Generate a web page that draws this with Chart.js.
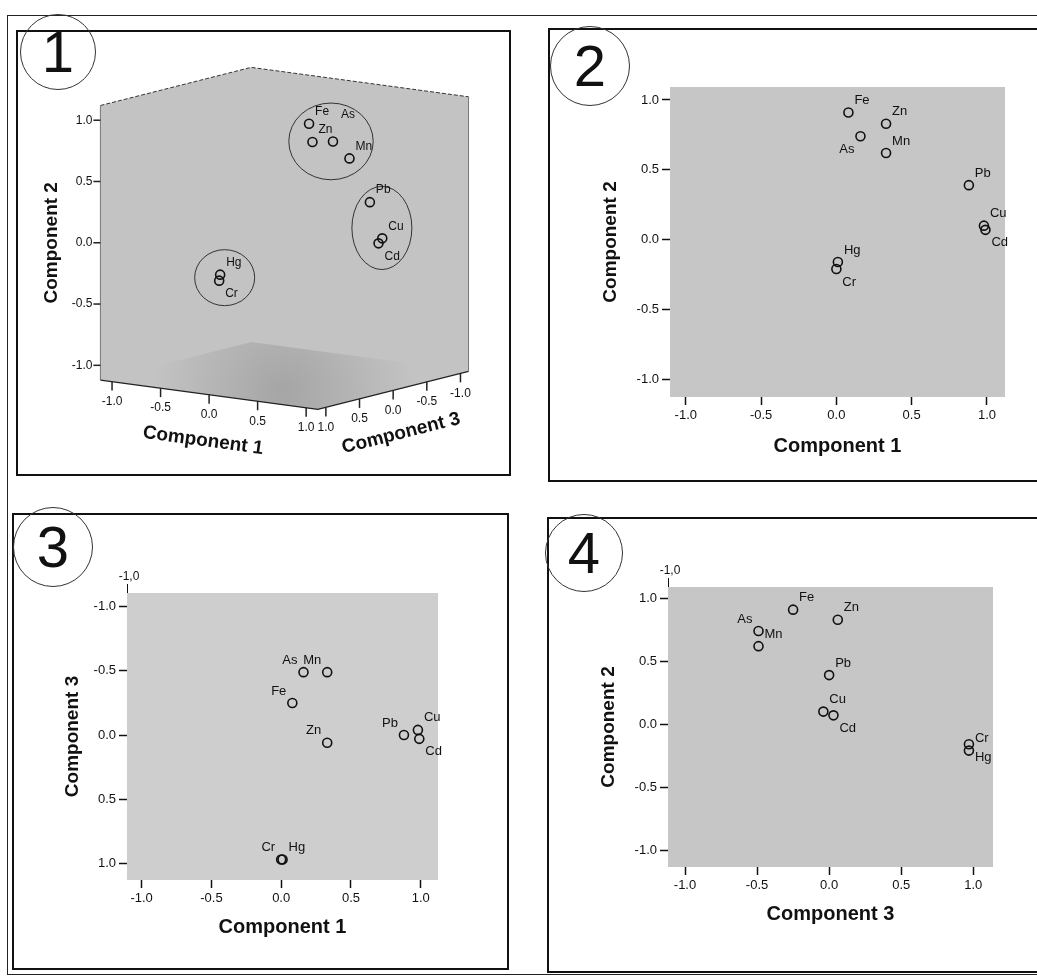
<!DOCTYPE html>
<html lang="en">
<head>
    <meta charset="UTF-8">
    <title>Component plots in rotated space</title>
    <!-- Chart.js CDN -->
    <script src="https://cdn.jsdelivr.net/npm/chart.js"></script>
    <style>
        body { margin: 0; background: #fff; width: 1037px; height: 977px; position: relative; overflow: hidden;
               font-family: "Liberation Sans", Arial, sans-serif; }
        .frame { position: absolute; left: 7px; top: 15px; width: 1060px; height: 958px;
                 border-left: 1.5px solid #222; border-top: 1.5px solid #222; border-bottom: 1.5px solid #222; }
        .panel { position: absolute; border: 2px solid #111; box-sizing: border-box; background: #fff; }
        canvas { position: absolute; }
        .badge { position: absolute; border: 1px solid #333; border-radius: 50%; background: transparent;
                 text-align: center; color: #111; font-size: 58px; box-sizing: border-box; }
    </style>
</head>
<body>

    <div class="frame"></div>

    <!-- Panel boxes -->
    <div class="panel" style="left:16px; top:30px; width:495px; height:446px;"></div>
    <div class="panel" style="left:548px; top:28px; width:520px; height:454px;"></div>
    <div class="panel" style="left:12px; top:513px; width:497px; height:457px;"></div>
    <div class="panel" style="left:547px; top:517px; width:520px; height:456px;"></div>

    <!-- Charts -->
    <canvas id="plot1" width="495" height="446" style="left:16px; top:30px;"></canvas>
    <canvas id="plot2" width="489" height="454" style="left:548px; top:28px;"></canvas>
    <canvas id="plot3" width="501" height="457" style="left:8px; top:513px;"></canvas>
    <canvas id="plot4" width="490" height="456" style="left:547px; top:517px;"></canvas>

    <!-- Panel numbers -->
    <div class="badge" style="left:20px; top:14px; width:76px; height:76px; line-height:74px;">1</div>
    <div class="badge" style="left:550px; top:26px; width:80px; height:80px; line-height:78px;">2</div>
    <div class="badge" style="left:13px; top:507px; width:80px; height:80px; line-height:78px;">3</div>
    <div class="badge" style="left:545px; top:514px; width:78px; height:78px; line-height:76px;">4</div>

    <script>
        // Component loadings
        const elements = ['As', 'Cd', 'Cr', 'Cu', 'Fe', 'Hg', 'Mn', 'Pb', 'Zn'];
        const comp1 = [0.16, 0.99, 0.00, 0.98, 0.08, 0.01, 0.33, 0.88, 0.33];
        const comp2 = [0.74, 0.07, -0.21, 0.10, 0.91, -0.16, 0.62, 0.39, 0.83];
        const comp3 = [-0.49, 0.03, 0.97, -0.04, -0.25, 0.97, -0.49, 0.00, 0.06];
        const tickValues = [-1.0, -0.5, 0.0, 0.5, 1.0];
        const clusters = [['Fe', 'As', 'Zn', 'Mn'], ['Pb', 'Cu', 'Cd'], ['Hg', 'Cr']];

        const FONT = '"Liberation Sans", Arial, sans-serif';
        Chart.defaults.font.family = FONT;
        Chart.defaults.color = '#111';

        // label position codes: dx, dy, align
        const labelOffsets = {
            tr: [6, -12, 'left'],
            br: [6, 13, 'left'],
            tl: [-6, -12, 'right'],
            bl: [-6, 13, 'right'],
            tt: [8, -27, 'left']
        };

        // 3D view for panel 1 (page pixels)
        const view3d = { origin: [285, 238], unit: 126, e1: [99.5, 13.5], e3: [-69, 17.5], extent: 1.12,
                         canvas: [16, 30, 495, 446] };

        function fmt(v) {
            return v.toFixed(1);
        }

        function project(c1, c2, c3) {
            return {
                x: (view3d.e1[0] * c1 + view3d.e3[0] * c3) / view3d.unit,
                y: c2 - (view3d.e1[1] * c1 + view3d.e3[1] * c3) / view3d.unit
            };
        }

        // Gray plot background
        const plotFill = {
            id: 'plotFill',
            beforeDraw(chart, args, opts) {
                if (!opts.color) return;
                const { ctx, chartArea: a } = chart;
                ctx.save();
                ctx.fillStyle = opts.color;
                ctx.fillRect(a.left, a.top, a.right - a.left, a.bottom - a.top);
                ctx.restore();
            }
        };

        // Element names next to the points
        const pointLabels = {
            id: 'pointLabels',
            afterDatasetsDraw(chart, args, opts) {
                const { ctx } = chart;
                const meta = chart.getDatasetMeta(0);
                ctx.save();
                ctx.font = (opts.size || 13) + 'px ' + FONT;
                ctx.fillStyle = '#111';
                ctx.textBaseline = 'middle';
                meta.data.forEach((pt, i) => {
                    const name = elements[i];
                    const off = labelOffsets[(opts.placement || {})[name] || 'tr'];
                    ctx.textAlign = off[2];
                    ctx.fillText(name, pt.x + off[0], pt.y + off[1]);
                });
                ctx.restore();
            }
        };

        // the stray "-1,0" above the y axis in panels 3 and 4
        const cornerNote = {
            id: 'cornerNote',
            afterDraw(chart, args, opts) {
                if (!opts.text) return;
                const { ctx, chartArea: a } = chart;
                ctx.save();
                ctx.strokeStyle = '#111';
                ctx.lineWidth = 1;
                ctx.beginPath();
                ctx.moveTo(a.left + 0.5, a.top - 9);
                ctx.lineTo(a.left + 0.5, a.top);
                ctx.stroke();
                ctx.font = '12px ' + FONT;
                ctx.fillStyle = '#111';
                ctx.textAlign = 'center';
                ctx.textBaseline = 'middle';
                ctx.fillText(opts.text, a.left + 2, a.top - 16);
                ctx.restore();
            }
        };

        function axis(title, range, dir, size) {
            return {
                type: 'linear',
                min: range[0],
                max: range[1],
                afterBuildTicks: s => { s.ticks = tickValues.map(v => ({ value: v })); },
                afterFit: s => { if (dir === 'x') s.height = size; else s.width = size; },
                grid: { drawOnChartArea: false, drawTicks: true, tickLength: 8, tickWidth: 1.5, tickColor: '#111' },
                border: { display: false },
                ticks: { callback: v => fmt(v), font: { size: 13 }, color: '#111', padding: 3,
                         maxRotation: 0, autoSkip: false },
                title: { display: true, text: title, font: { size: dir === 'x' ? 20 : 19, weight: 'bold' }, color: '#111' }
            };
        }

        function pointDataset(data) {
            return {
                data: data,
                pointStyle: 'circle',
                pointRadius: 4.5,
                pointBorderWidth: 1.6,
                pointBorderColor: '#111',
                pointBackgroundColor: 'rgba(0,0,0,0)'
            };
        }

        function makePanel(id, xs, ys, cfg) {
            const data = elements.map((e, i) => ({ x: xs[i], y: ys[i] }));
            const yAxis = axis(cfg.yTitle, cfg.yRange, 'y', cfg.yWidth);
            yAxis.reverse = !!cfg.yReverse;
            return new Chart(document.getElementById(id), {
                type: 'scatter',
                data: { datasets: [pointDataset(data)] },
                options: {
                    responsive: false,
                    animation: false,
                    events: [],
                    layout: { padding: cfg.padding },
                    plugins: {
                        legend: { display: false },
                        tooltip: { enabled: false },
                        plotFill: { color: cfg.fill },
                        pointLabels: { placement: cfg.placement },
                        cornerNote: { text: cfg.note }
                    },
                    scales: {
                        x: axis(cfg.xTitle, cfg.xRange, 'x', cfg.xHeight),
                        y: yAxis
                    }
                },
                plugins: [plotFill, pointLabels, cornerNote]
            });
        }

        // Panel 1: 3D box drawn through the chart's own scales
        const box3d = {
            id: 'box3d',
            beforeDatasetsDraw(chart) {
                const { ctx } = chart;
                const sx = chart.scales.x, sy = chart.scales.y;
                const m = view3d.extent;
                const px = (c1, c2, c3) => {
                    const p = project(c1, c2, c3);
                    return [sx.getPixelForValue(p.x), sy.getPixelForValue(p.y)];
                };
                const path = pts => {
                    ctx.beginPath();
                    pts.forEach((p, i) => i ? ctx.lineTo(p[0], p[1]) : ctx.moveTo(p[0], p[1]));
                };
                ctx.save();
                // walls and floor, one shade like the scan
                path([px(-m, m, m), px(-m, m, -m), px(m, m, -m), px(m, -m, -m), px(m, -m, m), px(-m, -m, m)]);
                ctx.closePath();
                ctx.fillStyle = '#c3c3c3';
                ctx.fill();
                const fc = px(0.2, -m, 0.3);
                const grad = ctx.createRadialGradient(fc[0], fc[1] + 8, 4, fc[0], fc[1] + 8, 130);
                grad.addColorStop(0, 'rgba(130,130,130,0.45)');
                grad.addColorStop(1, 'rgba(130,130,130,0)');
                path([px(-m, -m, -m), px(m, -m, -m), px(m, -m, m), px(-m, -m, m)]);
                ctx.closePath();
                ctx.fillStyle = grad;
                ctx.fill();

                // outline
                ctx.strokeStyle = '#333';
                ctx.lineWidth = 1;
                ctx.setLineDash([4, 2]);
                path([px(-m, m, m), px(-m, m, -m), px(m, m, -m)]);
                ctx.stroke();
                ctx.setLineDash([]);
                ctx.strokeStyle = '#777';
                path([px(m, m, -m), px(m, -m, -m)]);
                ctx.stroke();
                path([px(-m, m, m), px(-m, -m, m)]);
                ctx.stroke();
                ctx.strokeStyle = '#222';
                ctx.lineWidth = 1.3;
                path([px(-m, -m, m), px(m, -m, m), px(m, -m, -m)]);
                ctx.stroke();

                // ticks
                ctx.fillStyle = '#111';
                ctx.lineWidth = 1.5;
                ctx.font = '12px ' + FONT;
                ctx.textBaseline = 'middle';
                tickValues.forEach(t => {
                    // component 2, left edge
                    let a = px(-m, t, m);
                    ctx.beginPath(); ctx.moveTo(a[0] - 7, a[1]); ctx.lineTo(a[0], a[1]); ctx.stroke();
                    ctx.textAlign = 'right';
                    ctx.fillText(fmt(t), a[0] - 8, a[1]);
                    // component 1, front-left floor edge
                    a = px(t, -m, m);
                    ctx.beginPath(); ctx.moveTo(a[0], a[1]); ctx.lineTo(a[0], a[1] + 9); ctx.stroke();
                    ctx.textAlign = 'center';
                    ctx.fillText(fmt(t), a[0], a[1] + 20);
                    // component 3, front-right floor edge
                    a = px(m, -m, t);
                    ctx.beginPath(); ctx.moveTo(a[0], a[1]); ctx.lineTo(a[0], a[1] + 9); ctx.stroke();
                    ctx.fillText(fmt(t), a[0], a[1] + 20);
                });

                // axis titles
                ctx.textAlign = 'center';
                const titleAt = (text, pt, ang, size) => {
                    ctx.save();
                    ctx.font = 'bold ' + size + 'px ' + FONT;
                    ctx.translate(pt[0], pt[1]);
                    ctx.rotate(ang);
                    ctx.fillText(text, 0, 0);
                    ctx.restore();
                };
                const a1 = px(0, -m, m);
                titleAt('Component 1', [a1[0] - 6, a1[1] + 46], Math.atan2(view3d.e1[1], view3d.e1[0]), 19);
                const a3 = px(m, -m, 0);
                titleAt('Component 3', [a3[0] + 8, a3[1] + 43], Math.atan2(-view3d.e3[1], -view3d.e3[0]), 19);
                const a2 = px(-m, 0, m);
                titleAt('Component 2', [a2[0] - 49, a2[1]], -Math.PI / 2, 19);
                ctx.restore();
            },
            afterDatasetsDraw(chart) {
                // ellipses round the clusters, sized from the member points
                const { ctx } = chart;
                const pts = chart.getDatasetMeta(0).data;
                ctx.save();
                ctx.strokeStyle = '#333';
                ctx.lineWidth = 1;
                clusters.forEach(group => {
                    const members = group.map(n => pts[elements.indexOf(n)]);
                    const xs = members.map(q => q.x), ys = members.map(q => q.y);
                    const cx = xs.reduce((s, v) => s + v, 0) / xs.length + 5;
                    const cy = ys.reduce((s, v) => s + v, 0) / ys.length;
                    const rx = Math.max((Math.max(...xs) - Math.min(...xs)) / 2 + 22, 30);
                    const ry = Math.max((Math.max(...ys) - Math.min(...ys)) / 2 + 21, 28);
                    ctx.beginPath();
                    ctx.ellipse(cx, cy, rx, ry, 0, 0, Math.PI * 2);
                    ctx.stroke();
                });
                ctx.restore();
            }
        };

        const c = view3d.canvas;
        const data3d = elements.map((e, i) => project(comp1[i], comp2[i], comp3[i]));
        new Chart(document.getElementById('plot1'), {
            type: 'scatter',
            data: { datasets: [pointDataset(data3d)] },
            options: {
                responsive: false,
                animation: false,
                events: [],
                layout: { padding: 0 },
                plugins: {
                    legend: { display: false },
                    tooltip: { enabled: false },
                    pointLabels: {
                        size: 12,
                        placement: { Fe: 'tr', As: 'tt', Zn: 'tr', Mn: 'tr', Pb: 'tr', Cu: 'tr', Cd: 'br', Hg: 'tr', Cr: 'br' }
                    }
                },
                scales: {
                    x: { type: 'linear', display: false,
                         min: -(view3d.origin[0] - c[0]) / view3d.unit,
                         max: (c[0] + c[2] - view3d.origin[0]) / view3d.unit },
                    y: { type: 'linear', display: false,
                         min: -(c[1] + c[3] - view3d.origin[1]) / view3d.unit,
                         max: (view3d.origin[1] - c[1]) / view3d.unit }
                }
            },
            plugins: [box3d, pointLabels]
        });

        // Panel 2: Component 1 vs Component 2
        makePanel('plot2', comp1, comp2, {
            xTitle: 'Component 1', yTitle: 'Component 2',
            xRange: [-1.105, 1.12], yRange: [-1.127, 1.093],
            padding: { left: 47, top: 59, right: 32, bottom: 20 }, yWidth: 75, xHeight: 65,
            fill: '#c6c6c6',
            placement: { Fe: 'tr', Zn: 'tr', As: 'bl', Mn: 'tr', Pb: 'tr', Cu: 'tr', Cd: 'br', Hg: 'tr', Cr: 'br' }
        });

        // Panel 3: Component 1 vs Component 3 (reversed)
        makePanel('plot3', comp1, comp3, {
            xTitle: 'Component 1', yTitle: 'Component 3',
            xRange: [-1.105, 1.124], yRange: [-1.107, 1.13], yReverse: true,
            padding: { left: 49, top: 80, right: 71, bottom: 27 }, yWidth: 70, xHeight: 63,
            fill: '#cecece', note: '-1,0',
            placement: { As: 'tl', Mn: 'tl', Fe: 'tl', Zn: 'tl', Pb: 'tl', Cu: 'tr', Cd: 'br', Cr: 'tl', Hg: 'tr' }
        });

        // Panel 4: Component 3 vs Component 2
        makePanel('plot4', comp3, comp2, {
            xTitle: 'Component 3', yTitle: 'Component 2',
            xRange: [-1.118, 1.137], yRange: [-1.135, 1.09],
            padding: { left: 46, top: 70, right: 44, bottom: 43 }, yWidth: 75, xHeight: 63,
            fill: '#c6c6c6', note: '-1,0',
            placement: { Fe: 'tr', Zn: 'tr', As: 'tl', Mn: 'tr', Pb: 'tr', Cu: 'tr', Cd: 'br', Cr: 'tr', Hg: 'br' }
        });
    </script>

</body>
</html>
